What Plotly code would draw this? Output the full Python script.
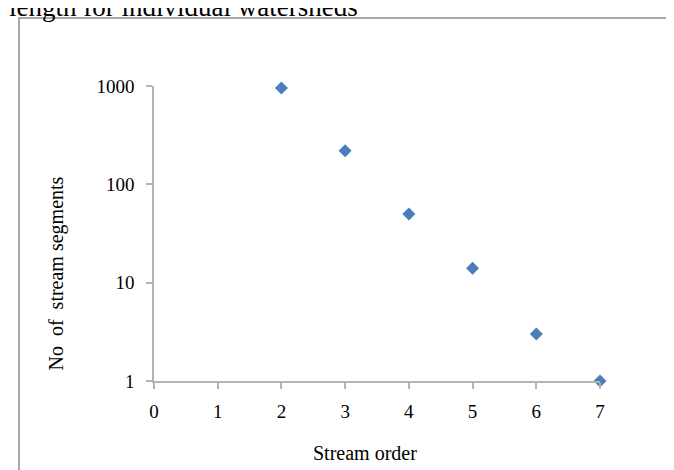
import plotly.graph_objects as go

# Data
stream_order = [2, 3, 4, 5, 6, 7]
segments = [955, 220, 50, 14, 3, 1]
x_ticks = [0, 1, 2, 3, 4, 5, 6, 7]
y_ticks = [1, 10, 100, 1000]
y_tick_labels = ["1", "10", "100", "1000"]
x_title = "Stream order"
y_title = "No  of  stream segments"
caption = "length for individual watersheds"

W, H = 674, 470
L, R, T, B = 146, 82, 78, 97
pw, ph = W - L - R, H - T - B

FONT = "Liberation Serif, Times New Roman, serif"
AXIS_COLOR = "#b4b4b4"

fig = go.Figure()
fig.add_trace(go.Scatter(
    x=stream_order, y=segments, mode="markers",
    marker=dict(symbol="diamond", size=10, color="#4a7ebb"),
    cliponaxis=False, showlegend=False,
))

def px_x(p):
    return (p - L) / pw

def px_y(p):
    return (H - B - p) / ph

fig.update_layout(
    width=W, height=H,
    margin=dict(l=L, r=R, t=T, b=B),
    paper_bgcolor="white", plot_bgcolor="white",
    font=dict(family=FONT, size=19, color="#000000"),
    xaxis=dict(
        range=[0, 7], tickvals=x_ticks, showgrid=False, zeroline=False,
        showline=True, linecolor=AXIS_COLOR, linewidth=1.5,
        ticks="outside", ticklen=6, tickcolor=AXIS_COLOR, tickwidth=1.5,
        ticklabelstandoff=6,
        tickfont=dict(family=FONT, size=19, color="#000"),
    ),
    yaxis=dict(
        type="log", range=[0, 3], tickvals=y_ticks, ticktext=y_tick_labels,
        showgrid=False, zeroline=False,
        showline=True, linecolor=AXIS_COLOR, linewidth=1.5,
        ticks="outside", ticklen=6, tickcolor=AXIS_COLOR, tickwidth=1.5,
        ticklabelstandoff=8,
        tickfont=dict(family=FONT, size=19, color="#000"),
    ),
    shapes=[dict(
        type="rect", xref="paper", yref="paper",
        x0=px_x(11), x1=px_x(W + 20), y0=px_y(H + 20), y1=px_y(10),
        line=dict(color="#8c8c8c", width=1.5), fillcolor="rgba(0,0,0,0)",
        layer="below",
    )],
    annotations=[
        dict(text=x_title, xref="paper", yref="paper",
             x=px_x(357), y=px_y(445), xanchor="center", yanchor="middle",
             showarrow=False, font=dict(family=FONT, size=20, color="#000")),
        dict(text=y_title, xref="paper", yref="paper", textangle=-90,
             x=px_x(47.5), y=px_y(266), xanchor="center", yanchor="middle",
             showarrow=False, font=dict(family=FONT, size=20, color="#000")),
        dict(text=caption, xref="paper", yref="paper",
             x=px_x(-1), y=px_y(16), xanchor="left", yanchor="bottom",
             showarrow=False, font=dict(family=FONT, size=27, color="#000")),
    ],
)

fig.write_html("out.html")
